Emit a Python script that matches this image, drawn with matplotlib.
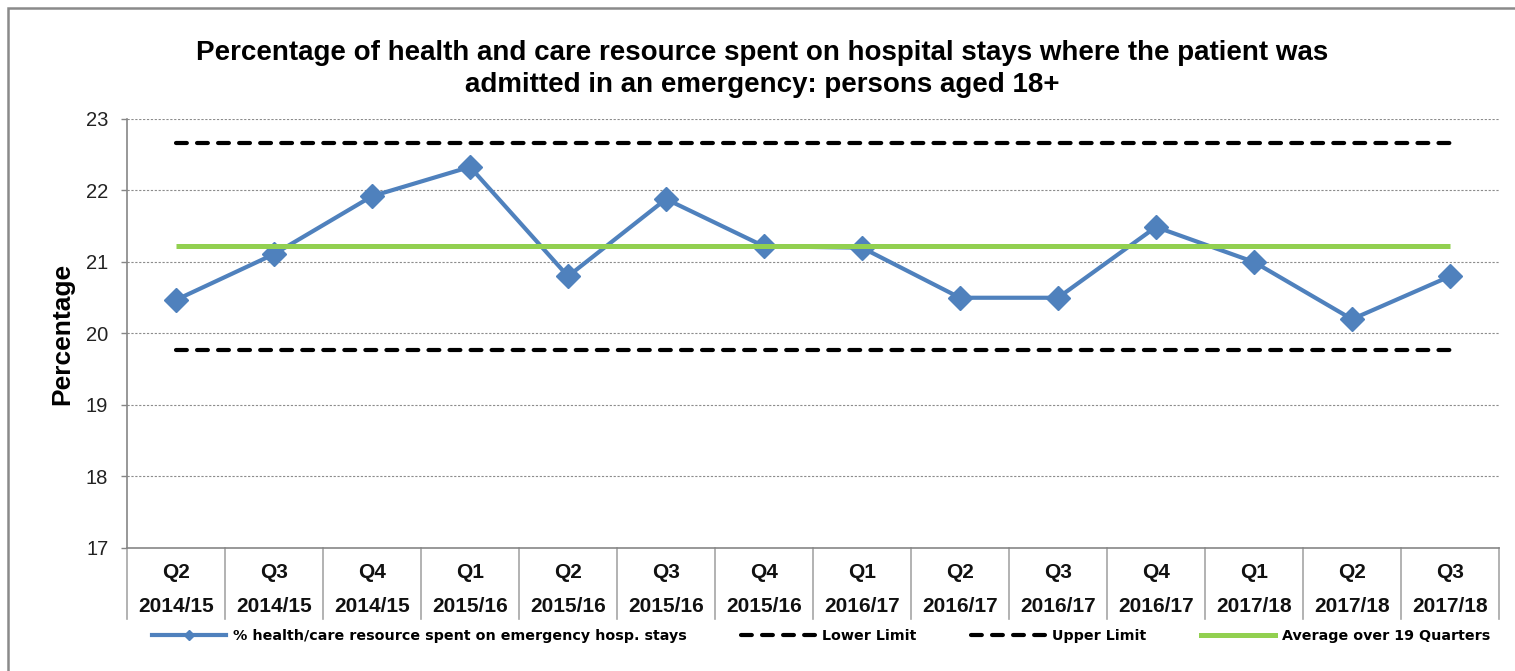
import matplotlib
matplotlib.use("Agg")
import matplotlib.pyplot as plt
from matplotlib.lines import Line2D
from matplotlib.patches import Rectangle

# ---- data ----
quarters = ["Q2", "Q3", "Q4", "Q1", "Q2", "Q3", "Q4", "Q1", "Q2", "Q3", "Q4", "Q1", "Q2", "Q3"]
years = ["2014/15", "2014/15", "2014/15", "2015/16", "2015/16", "2015/16", "2015/16",
         "2016/17", "2016/17", "2016/17", "2016/17", "2017/18", "2017/18", "2017/18"]
pct_emergency = [20.47, 21.11, 21.92, 22.33, 20.80, 21.88, 21.22,
                 21.20, 20.50, 20.50, 21.49, 21.00, 20.20, 20.80]
lower_limit = 19.77
upper_limit = 22.66
average_19q = 21.22
y_ticks = [17, 18, 19, 20, 21, 22, 23]

title = ("Percentage of health and care resource spent on hospital stays where the patient was\n"
         "admitted in an emergency: persons aged 18+")
series_names = ["% health/care resource spent on emergency hosp. stays",
                "Lower Limit", "Upper Limit", "Average over 19 Quarters"]

plt.rcParams['font.family'] = ['Liberation Sans', 'DejaVu Sans']

W, H = 1515, 671
fig = plt.figure(figsize=(W / 100, H / 100), dpi=100)
ax_l, ax_r, ax_t, ax_b = 127, 1499, 119, 548
ax = fig.add_axes([ax_l / W, 1 - ax_b / H, (ax_r - ax_l) / W, (ax_b - ax_t) / H])

blue = "#4F81BD"
green = "#92D050"
x = list(range(len(pct_emergency)))
n = len(x)

ax.plot(x, pct_emergency, color=blue, lw=3, marker="D", markersize=12,
        markerfacecolor=blue, markeredgecolor=blue, zorder=3)
dash_kw = dict(color="black", lw=3, dashes=(2.6, 2.45), dash_capstyle="round")
ax.plot([x[0], x[-1]], [lower_limit] * 2, zorder=4, **dash_kw)
ax.plot([x[0], x[-1]], [upper_limit] * 2, zorder=4, **dash_kw)
ax.plot([x[0], x[-1]], [average_19q] * 2, color=green, lw=3.6, zorder=5,
        solid_capstyle="butt")

ax.set_xlim(-0.5, n - 0.5)
ax.set_ylim(y_ticks[0], y_ticks[-1])
ax.set_yticks(y_ticks)
ax.set_yticklabels([str(t) for t in y_ticks], fontsize=14.5, color="#222222")
ax.tick_params(axis="y", length=4.5, width=1, color="#868686", pad=9)
ax.set_xticks([])
for t in y_ticks[1:]:
    ax.axhline(t, color="#8c8c8c", lw=0.8, dashes=(2, 1.5), zorder=1)

for s in ["top", "right"]:
    ax.spines[s].set_visible(False)
for s in ["left", "bottom"]:
    ax.spines[s].set_color("#868686")
    ax.spines[s].set_linewidth(1.2)

ax.set_ylabel("Percentage", fontsize=19, fontweight="bold")
ax.yaxis.set_label_coords((74 - ax_l) / (ax_r - ax_l), 0.5)

# multi-level category axis
trans = ax.get_xaxis_transform()
ah = ax_b - ax_t
yq = (ax_b - 572) / ah
yy = (ax_b - 606) / ah
ysep = (ax_b - 619) / ah
for i in range(n):
    ax.text(x[i], yq, quarters[i], transform=trans, ha="center", va="center",
            fontsize=15, fontweight="bold", color="#111111")
    ax.text(x[i], yy, years[i], transform=trans, ha="center", va="center",
            fontsize=15, fontweight="bold", color="#111111")
for b in range(n + 1):
    ax.plot([b - 0.5, b - 0.5], [0, ysep], transform=trans, color="#a6a6a6",
            lw=1.2, clip_on=False)

fig.text(762 / W, 1 - 69 / H, title, ha="center", va="center", fontsize=20,
         fontweight="bold", linespacing=1.25, multialignment="center")

# legend
handles = [
    Line2D([], [], color=blue, lw=3, marker="D", markersize=5),
    Line2D([], [], **dash_kw),
    Line2D([], [], **dash_kw),
    Line2D([], [], color=green, lw=3.6),
]
leg = fig.legend(handles, series_names, loc="center left",
                 bbox_to_anchor=(152 / W, 1 - 636 / H), ncol=4, frameon=False,
                 borderpad=0, borderaxespad=0, handlelength=5.17, handletextpad=0.5,
                 columnspacing=3.8, numpoints=1,
                 prop={"family": "DejaVu Sans", "weight": "bold", "size": 10.3})

# outer frame
fig.patches.append(Rectangle((8 / W, -0.1), 1.2, 1 - 8 / H + 0.1,
                             transform=fig.transFigure, fill=False,
                             edgecolor="#8a8a8a", lw=1.8))

fig.savefig("out.png", dpi=100)
